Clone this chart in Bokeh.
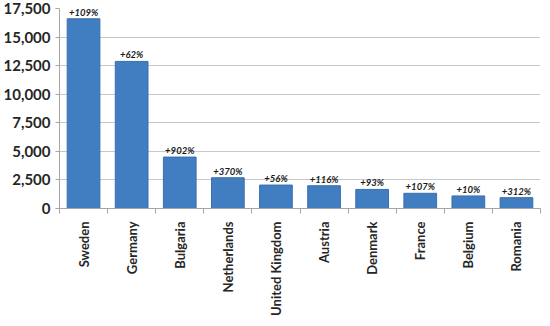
import math
from bokeh.plotting import figure
from bokeh.models import LinearAxis, FixedTicker, NumeralTickFormatter, ColumnDataSource, Range1d
from bokeh.core.properties import value
from bokeh.embed import file_html
from bokeh.resources import INLINE

countries = ["Sweden", "Germany", "Bulgaria", "Netherlands", "United Kingdom",
             "Austria", "Denmark", "France", "Belgium", "Romania"]
values = [16600, 12870, 4500, 2690, 2050, 1990, 1670, 1330, 1100, 950]
changes = ["+109%", "+62%", "+902%", "+370%", "+56%", "+116%", "+93%", "+107%", "+10%", "+312%"]
y_ticks = [0, 2500, 5000, 7500, 10000, 12500, 15000, 17500]

n = len(countries)
centers = [i + 0.5 for i in range(n)]
bounds = list(range(n + 1))

src = ColumnDataSource(dict(x=centers, top=values, label=changes))

FONT = "Lato"

p = figure(width=542, height=318, output_backend="svg", toolbar_location=None,
           x_range=Range1d(0, n), y_range=Range1d(0, 17500),
           x_axis_location=None, y_axis_location=None,
           min_border_top=8, min_border_right=2, min_border_left=2, min_border_bottom=0)
p.outline_line_color = None
p.background_fill_color = "white"

# Y axis
yax = LinearAxis(ticker=FixedTicker(ticks=y_ticks),
                 formatter=NumeralTickFormatter(format="0,0"))
yax.axis_line_color = "#a6a6a6"
yax.major_tick_line_color = "#a6a6a6"
yax.major_tick_out = 4
yax.major_tick_in = 0
yax.minor_tick_line_color = None
yax.major_label_text_font = FONT
yax.major_label_text_font_style = "bold"
yax.major_label_text_font_size = "15px"
yax.major_label_text_color = "#262626"
yax.major_label_standoff = 5
p.add_layout(yax, "left")

# X axis with ticks at category boundaries (no labels)
xax1 = LinearAxis(ticker=FixedTicker(ticks=bounds),
                  major_label_overrides={b: "" for b in bounds})
xax1.axis_line_color = "#a6a6a6"
xax1.major_tick_line_color = "#a6a6a6"
xax1.major_tick_out = 5
xax1.major_tick_in = 0
xax1.minor_tick_line_color = None
xax1.major_label_text_font_size = "1px"
xax1.major_label_standoff = 0
p.add_layout(xax1, "below")

# X axis with country labels at centers
xax2 = LinearAxis(ticker=FixedTicker(ticks=centers),
                  major_label_overrides={c: name for c, name in zip(centers, countries)})
xax2.axis_line_color = None
xax2.major_tick_line_color = None
xax2.minor_tick_line_color = None
xax2.major_label_orientation = math.pi / 2
xax2.major_label_text_font = FONT
xax2.major_label_text_font_style = "bold"
xax2.major_label_text_font_size = "13px"
xax2.major_label_text_color = "#262626"
xax2.major_label_standoff = 2
p.add_layout(xax2, "below")

for g in p.grid:
    if g.dimension == 1:
        g.ticker = FixedTicker(ticks=y_ticks)
        g.grid_line_color = "#c8c8c8"
    else:
        g.grid_line_color = None

p.vbar(x="x", top="top", width=0.68, bottom=0, source=src,
       fill_color="#417DC1", line_color="#3A6FAD", line_width=1)

p.text(x="x", y="top", text="label", source=src, text_align="center",
       text_baseline="bottom", y_offset=-1,
       text_font=value(FONT), text_font_style="bold italic",
       text_font_size="9.5px", text_color="#1a1a1a")

open("out.html", "w").write(file_html(p, INLINE))
